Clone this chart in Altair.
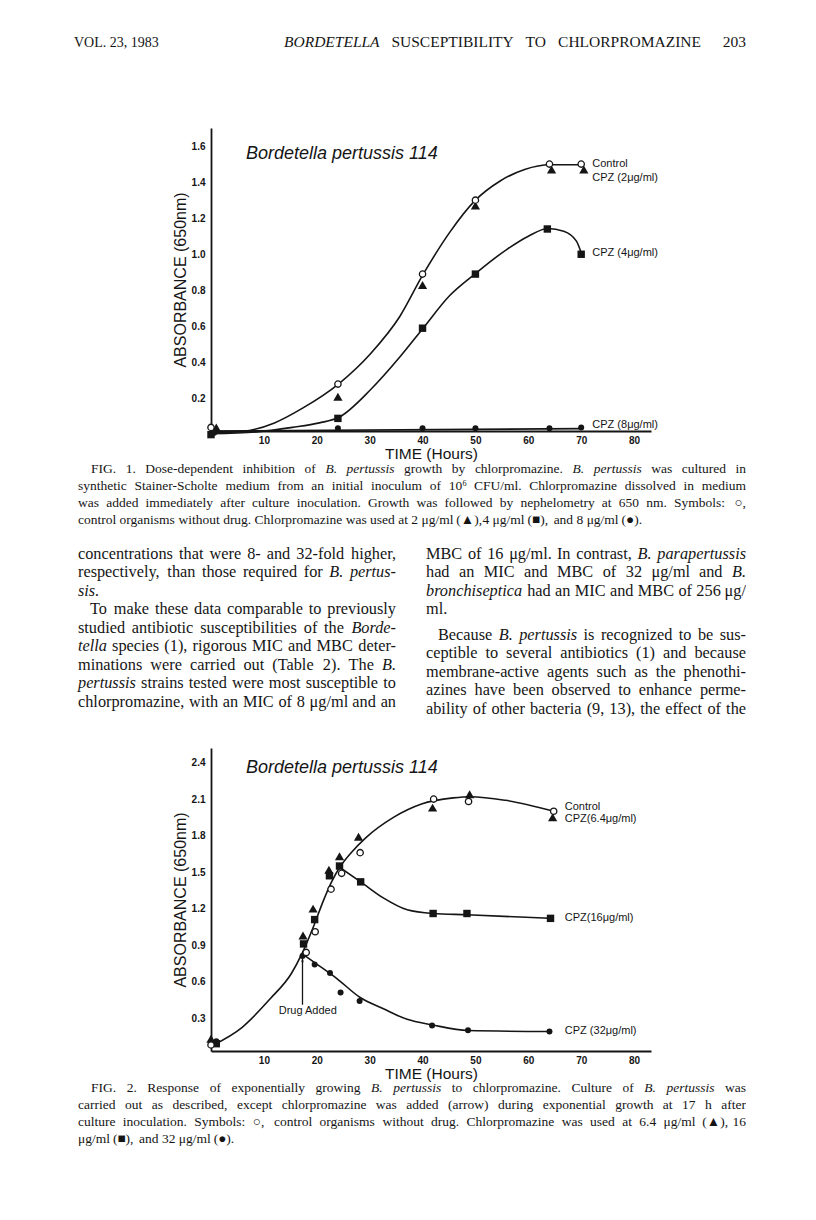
import altair as alt
import pandas as pd

# ---------------- FIG. 1 data (hours, absorbance 650 nm) ----------------
f1_ctrl_t = [0, 24, 40, 50, 64, 70]
f1_ctrl_a = [0.04, 0.28, 0.89, 1.30, 1.50, 1.50]
f1_cpz2_t = [1, 24, 40, 50, 64.4, 70.5]
f1_cpz2_a = [0.04, 0.21, 0.83, 1.27, 1.47, 1.47]
f1_cpz4_t = [0, 24, 40, 50, 63.6, 70]
f1_cpz4_a = [0.00, 0.09, 0.59, 0.89, 1.14, 1.00]
f1_cpz8_t = [0.6, 24, 40, 50, 64, 70]
f1_cpz8_a = [0.01, 0.035, 0.035, 0.035, 0.035, 0.04]

# hand-drawn curves
f1_curve_ctrl_t = [0, 6, 12, 17.4, 24.2, 30.2, 35.7, 40.1, 45.1, 50, 54.6, 59.3, 64.1, 70.2]
f1_curve_ctrl_a = [0.01, 0.018, 0.065, 0.148, 0.283, 0.45, 0.655, 0.888, 1.12, 1.30, 1.405, 1.47, 1.496, 1.496]
f1_curve_cpz4_t = [0, 8.6, 15.4, 20.5, 24.2, 30.2, 35.7, 40.1, 45.1, 50, 55.9, 60, 63.7, 66.7, 69.1, 70.1]
f1_curve_cpz4_a = [0.005, 0.015, 0.04, 0.065, 0.096, 0.25, 0.43, 0.59, 0.77, 0.893, 1.026, 1.10, 1.143, 1.128, 1.073, 1.0]
f1_curve_cpz8_t = [0, 70]
f1_curve_cpz8_a = [0.02, 0.033]

f1_label_text = ["Control", "CPZ (2\u03bcg/ml)", "CPZ (4\u03bcg/ml)", "CPZ (8\u03bcg/ml)"]
f1_label_t = [72.1, 72.1, 72.1, 72.1]
f1_label_a = [1.50, 1.424, 1.008, 0.052]
f1_yticks = [0.2, 0.4, 0.6, 0.8, 1.0, 1.2, 1.4, 1.6]

# ---------------- FIG. 2 data ----------------
f2_ctrl_t = [0, 18, 19.7, 22.7, 24.7, 28.2, 42.1, 48.7, 64.8]
f2_ctrl_a = [0.08, 0.84, 1.01, 1.36, 1.49, 1.66, 2.10, 2.08, 2.00]
f2_cpz64_t = [0, 17.4, 19.3, 22.3, 24.3, 27.9, 41.9, 48.9, 64.6]
f2_cpz64_a = [0.13, 0.98, 1.20, 1.52, 1.63, 1.79, 2.03, 2.14, 1.95]
f2_cpz16_t = [1, 17.5, 19.6, 22.4, 24.3, 28.3, 42.0, 48.4, 64.2]
f2_cpz16_a = [0.09, 0.91, 1.11, 1.47, 1.55, 1.42, 1.16, 1.16, 1.12]
f2_cpz32_t = [1, 17.3, 19.6, 22.5, 24.5, 28.1, 41.8, 48.6, 64.0]
f2_cpz32_a = [0.11, 0.81, 0.74, 0.67, 0.51, 0.44, 0.24, 0.20, 0.19]

f2_curve_growth_t = [0.2, 5.9, 11.2, 15.2, 17.2, 19.5, 21.2, 22.8, 24.5, 26.5, 29.2, 34.5, 39.8, 45.8, 49.1, 55.7, 64.9]
f2_curve_growth_a = [0.074, 0.225, 0.46, 0.667, 0.83, 1.066, 1.26, 1.42, 1.55, 1.66, 1.78, 1.95, 2.06, 2.11, 2.12, 2.09, 2.00]
f2_curve_cpz16_t = [24.3, 28.3, 32.5, 37.1, 42.0, 48.4, 64.2]
f2_curve_cpz16_a = [1.54, 1.42, 1.29, 1.19, 1.16, 1.15, 1.12]
f2_curve_cpz32_t = [17.2, 19.8, 23.8, 28.2, 32.5, 37.1, 41.8, 48.6, 64.0]
f2_curve_cpz32_a = [0.83, 0.75, 0.625, 0.47, 0.38, 0.29, 0.245, 0.198, 0.19]

f2_arrow_t = [17.3]
f2_arrow_from = [0.41]
f2_arrow_to = [0.78]
f2_drug_text = ["Drug Added"]
f2_drug_t = [18.3]
f2_drug_a = [0.355]

f2_label_text = ["Control", "CPZ(6.4\u03bcg/ml)", "CPZ(16\u03bcg/ml)", "CPZ (32\u03bcg/ml)"]
f2_label_t = [66.9, 66.9, 66.9, 66.9]
f2_label_a = [2.036, 1.934, 1.121, 0.198]
f2_yticks = [0.3, 0.6, 0.9, 1.2, 1.5, 1.8, 2.1, 2.4]

x_ticks = [10, 20, 30, 40, 50, 60, 70, 80]

# ---------------- page text ("~" marks an italic word) ----------------
header_left = ["VOL. 23, 1983"]
header_mid = ["~BORDETELLA SUSCEPTIBILITY TO CHLORPROMAZINE"]
header_right = ["203"]
chart_title = "Bordetella pertussis 114"

caption1 = [
    "FIG. 1. Dose-dependent inhibition of ~B. ~pertussis growth by chlorpromazine. ~B. ~pertussis was cultured in",
    "synthetic Stainer-Scholte medium from an initial inoculum of 10\u2076 CFU/ml. Chlorpromazine dissolved in medium",
    "was added immediately after culture inoculation. Growth was followed by nephelometry at 650 nm. Symbols: \u25cb,",
    "control organisms without drug. Chlorpromazine was used at 2 \u03bcg/ml (\u25b2), 4 \u03bcg/ml (\u25a0), and 8 \u03bcg/ml (\u25cf).",
]
col1_par1 = [
    "concentrations that were 8- and 32-fold higher,",
    "respectively, than those required for ~B. ~pertus-",
    "~sis.",
]
col1_par2 = [
    "To make these data comparable to previously",
    "studied antibiotic susceptibilities of the ~Borde-",
    "~tella species (1), rigorous MIC and MBC deter-",
    "minations were carried out (Table 2). The ~B.",
    "~pertussis strains tested were most susceptible to",
    "chlorpromazine, with an MIC of 8 \u03bcg/ml and an",
]
col2_par1 = [
    "MBC of 16 \u03bcg/ml. In contrast, ~B. ~parapertussis",
    "had an MIC and MBC of 32 \u03bcg/ml and ~B.",
    "~bronchiseptica had an MIC and MBC of 256 \u03bcg/",
    "ml.",
]
col2_par2 = [
    "Because ~B. ~pertussis is recognized to be sus-",
    "ceptible to several antibiotics (1) and because",
    "membrane-active agents such as the phenothi-",
    "azines have been observed to enhance perme-",
    "ability of other bacteria (9, 13), the effect of the",
]
caption2 = [
    "FIG. 2. Response of exponentially growing ~B. ~pertussis to chlorpromazine. Culture of ~B. ~pertussis was",
    "carried out as described, except chlorpromazine was added (arrow) during exponential growth at 17 h after",
    "culture inoculation. Symbols: \u25cb, control organisms without drug. Chlorpromazine was used at 6.4 \u03bcg/ml (\u25b2), 16",
    "\u03bcg/ml (\u25a0), and 32 \u03bcg/ml (\u25cf).",
]

INK = "#151515"
SANS = "Liberation Sans"
SERIF = "Liberation Serif"
W, H = 440, 303
X_DOMAIN = [0, 83.2]
OX = 210          # page x of both plot origins
TOP1, TOP2 = 127, 747   # page y of the plot tops

# ---- Times-compatible advance widths (per 1000 em) for word placement ----
_R = dict(zip("abcdefghijklmnopqrstuvwxyz",
              [444, 500, 444, 500, 444, 333, 500, 500, 278, 278, 500, 278, 778, 500, 500, 500, 500, 333, 389, 278, 500, 500, 722, 500, 500, 444]))
_R.update(zip("ABCDEFGHIJKLMNOPQRSTUVWXYZ",
              [722, 667, 667, 722, 611, 556, 722, 722, 333, 389, 722, 611, 889, 722, 722, 556, 722, 667, 556, 611, 722, 722, 944, 722, 722, 611]))
_I = dict(zip("abcdefghijklmnopqrstuvwxyz",
              [500, 500, 444, 500, 444, 278, 500, 500, 278, 278, 444, 278, 722, 500, 500, 500, 500, 389, 389, 278, 500, 444, 667, 444, 444, 389]))
_I.update(zip("ABCDEFGHIJKLMNOPQRSTUVWXYZ",
              [611, 611, 667, 722, 611, 611, 722, 722, 333, 444, 667, 556, 833, 667, 722, 611, 722, 611, 500, 556, 722, 611, 833, 611, 556, 556]))
_P = {" ": 250, ".": 250, ",": 250, "-": 333, "(": 333, ")": 333, "/": 278, ":": 278, ";": 278,
      "\u03bc": 500, "\u2076": 300, "\u25cb": 780, "\u25b2": 770, "\u25a0": 770, "\u25cf": 780}
for d in "0123456789":
    _P[d] = 500


def word_width(w, italic, size):
    table = _I if italic else _R
    return sum(table.get(c, _P.get(c, 500)) for c in w) * size / 1000.0


def layout(lines, x_left, x_right, y_first, lh, size, last_justified=False, indent=0.0):
    """Justified word placement; returns rows of (word, px, py, size, italic, align)."""
    rows = []
    for i, line in enumerate(lines):
        words = line.split(" ")
        italics = [w.startswith("~") for w in words]
        words = [w.lstrip("~") for w in words]
        widths = [word_width(w, it, size) for w, it in zip(words, italics)]
        left = x_left + (indent if i == 0 else 0)
        justify = (i < len(lines) - 1 or last_justified) and len(words) > 1
        gap = (x_right - left - sum(widths)) / (len(words) - 1) if justify else 0.25 * size
        x = left
        y = y_first + i * lh
        for j, (w, it, wd) in enumerate(zip(words, italics, widths)):
            if justify and j == len(words) - 1:
                rows.append((w, x_right - OX, y, size, it, "right"))
            else:
                rows.append((w, x - OX, y, size, it, "left"))
            x += wd + gap
    return rows


def text_view(rows, y0, height, extra=None):
    df = pd.DataFrame(rows, columns=["w", "px", "py", "fs", "it", "al"])
    df["py"] = df["py"] - y0
    layers = []
    for it in (False, True):
        for al in ("left", "right"):
            sub = df[(df["it"] == it) & (df["al"] == al)]
            if len(sub) == 0:
                continue
            layers.append(alt.Chart(sub).mark_text(
                align=al, baseline="alphabetic", font=SERIF, color=INK,
                fontStyle="italic" if it else "normal").encode(
                x=alt.X("px:Q", scale=None, axis=None),
                y=alt.Y("py:Q", scale=None, axis=None),
                size=alt.Size("fs:Q", scale=None, legend=None),
                text="w:N"))
    if extra is not None:
        layers.append(extra)
    return alt.layer(*layers).properties(width=W, height=height)


def frame(t, a):
    return pd.DataFrame({"t": t, "a": a})


X = alt.X("t:Q", scale=alt.Scale(domain=X_DOMAIN, nice=False, zero=False),
          axis=alt.Axis(values=x_ticks, format="d", title="TIME (Hours)",
                        titleY=22, titleBaseline="middle", titleFontSize=15.5))


def yenc(domain, ticks):
    return alt.Y("a:Q", scale=alt.Scale(domain=domain, nice=False, zero=False),
                 axis=alt.Axis(values=ticks, format=".1f", title="ABSORBANCE (650nm)"))


def curve(t, a, Y):
    return alt.Chart(frame(t, a)).mark_line(interpolate="monotone", color=INK, strokeWidth=1.6).encode(x=X, y=Y)


def open_circles(t, a, Y):
    return alt.Chart(frame(t, a)).mark_point(shape="circle", size=40, filled=True, fill="white",
                                             stroke=INK, strokeWidth=1.3, opacity=1).encode(x=X, y=Y)


def symbols(t, a, Y, shape, size):
    return alt.Chart(frame(t, a)).mark_point(shape=shape, size=size, filled=True, color=INK,
                                             opacity=1).encode(x=X, y=Y)


def labels(texts, t, a, Y):
    d = pd.DataFrame({"t": t, "a": a, "txt": texts})
    return alt.Chart(d).mark_text(align="left", baseline="middle", font=SANS, fontSize=11,
                                  color=INK).encode(x=X, y=Y, text="txt:N")


ONE = pd.DataFrame({"k": [0]})


def title_mark(py):
    return alt.Chart(ONE).mark_text(align="left", baseline="middle", font=SANS, fontSize=18,
                                    fontStyle="italic", color=INK).encode(
        x=alt.value(245 - OX), y=alt.value(py), text=alt.value(chart_title))


# ---------------- views ----------------
BODY, BLH = 16.3, 18.5
CAP, CLH = 13.5, 16.8
B_OFF = 0.23 * BODY     # baseline below the x-height centre
C_OFF = 0.23 * CAP

# top strip: page y 8..127
top_rows = (layout(header_left, 73, 400, 42 + 4, 16, 14)
            + layout(header_mid, 283, 700, 42 + 4, 16, 15.5, last_justified=True)
            + layout(header_right, 745, 745, 42 + 4, 16, 15.5))
top_rows = [(w, 745 - OX, y, s, it, "right") if w == "203" else (w, px, y, s, it, al)
            for (w, px, y, s, it, al) in top_rows]
anchor = alt.Chart(ONE).mark_rule(color="white", strokeWidth=0.5).encode(
    x=alt.value(8 - OX), x2=alt.value(9 - OX), y=alt.value(0))
v_top = text_view(top_rows, 8, TOP1 - 8, extra=anchor)

# chart 1
Y1 = yenc([0.02, 1.7], f1_yticks)
c1 = alt.layer(
    curve(f1_curve_ctrl_t, f1_curve_ctrl_a, Y1),
    curve(f1_curve_cpz4_t, f1_curve_cpz4_a, Y1),
    curve(f1_curve_cpz8_t, f1_curve_cpz8_a, Y1),
    symbols(f1_cpz8_t, f1_cpz8_a, Y1, "circle", 36),
    symbols(f1_cpz4_t, f1_cpz4_a, Y1, "square", 55),
    symbols(f1_cpz2_t, f1_cpz2_a, Y1, "triangle-up", 85),
    open_circles(f1_ctrl_t, f1_ctrl_a, Y1),
    labels(f1_label_text, f1_label_t, f1_label_a, Y1),
    title_mark(153 - TOP1),
).properties(width=W, height=H)

# middle strip: page y 430..747
mid_top = TOP1 + H
b0 = 554 + B_OFF
mid_rows = (layout(caption1, 77, 745, 469 + C_OFF, CLH, CAP, indent=13)
            + layout(col1_par1, 77, 395, b0, BLH, BODY)
            + layout(col1_par2, 77, 395, b0 + 3 * BLH, BLH, BODY, last_justified=True, indent=12)
            + layout(col2_par1, 425, 745, b0, BLH, BODY)
            + layout(col2_par2, 425, 745, b0 + 4 * BLH + 7, BLH, BODY, last_justified=True, indent=12))
v_mid = text_view(mid_rows, mid_top, TOP2 - mid_top)

# chart 2
Y2 = yenc([0.03, 2.52], f2_yticks)
arrow_df = pd.DataFrame({"t": f2_arrow_t, "a": f2_arrow_from, "a2": f2_arrow_to})
arrow_line = alt.Chart(arrow_df).mark_rule(color=INK, strokeWidth=1.3).encode(x=X, y=Y2, y2="a2:Q")
arrow_head = alt.Chart(pd.DataFrame({"t": f2_arrow_t, "a": f2_arrow_to})).mark_point(
    shape="wedge", size=70, filled=True, color=INK, opacity=1).encode(x=X, y=Y2)
drug = alt.Chart(pd.DataFrame({"t": f2_drug_t, "a": f2_drug_a, "txt": f2_drug_text})).mark_text(
    align="center", baseline="middle", font=SANS, fontSize=11, color=INK).encode(x=X, y=Y2, text="txt:N")

c2 = alt.layer(
    curve(f2_curve_growth_t, f2_curve_growth_a, Y2),
    curve(f2_curve_cpz16_t, f2_curve_cpz16_a, Y2),
    curve(f2_curve_cpz32_t, f2_curve_cpz32_a, Y2),
    arrow_line, arrow_head, drug,
    symbols(f2_cpz32_t, f2_cpz32_a, Y2, "circle", 36),
    symbols(f2_cpz16_t, f2_cpz16_a, Y2, "square", 55),
    symbols(f2_cpz64_t, f2_cpz64_a, Y2, "triangle-up", 85),
    open_circles(f2_ctrl_t, f2_ctrl_a, Y2),
    labels(f2_label_text, f2_label_t, f2_label_a, Y2),
    title_mark(767 - TOP2),
).properties(width=W, height=H)

# bottom strip: page y 1050..1212
bot_top = TOP2 + H
bot_rows = layout(caption2, 77, 745, 1088 + C_OFF, CLH, CAP, indent=13)
v_bot = text_view(bot_rows, bot_top, 1212 - bot_top)

chart = alt.vconcat(v_top, c1, v_mid, c2, v_bot, spacing=0, bounds="flush").properties(
    padding=0
).configure_view(stroke=None).configure_axis(
    domainColor=INK, domainWidth=1.8, ticks=False, tickSize=0, grid=False,
    labelFont=SANS, labelFontWeight="bold", labelFontSize=10, labelColor=INK, labelPadding=6,
    titleFont=SANS, titleFontWeight="normal", titleFontSize=16, titleColor=INK,
).configure_axisX(labelPadding=4).configure_axisY(titlePadding=3)

chart.save("out.html", embed_options={"renderer": "svg", "actions": False})
